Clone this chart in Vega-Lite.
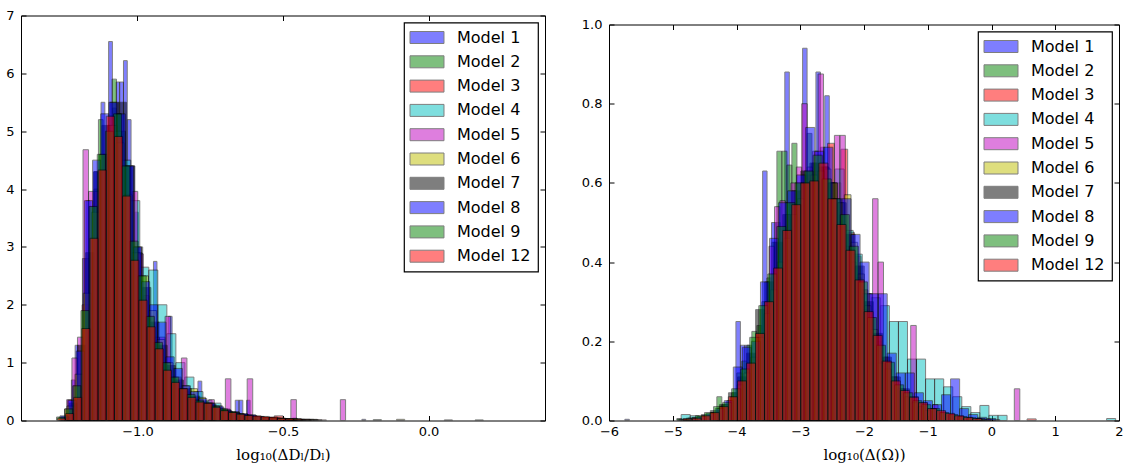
{
"$schema":"https://vega.github.io/schema/vega-lite/v6.json",
"background":"white",
"padding":{"left":5,"top":8.5,"right":0,"bottom":0},
"datasets":{
"L":[
{"m":1,"a":-1.240,"b":-1.227,"h":0.35},{"m":1,"a":-1.227,"b":-1.214,"h":0.7},{"m":1,"a":-1.214,"b":-1.201,"h":1.3},{"m":1,"a":-1.189,"b":-1.176,"h":2.8},{"m":1,"a":-1.176,"b":-1.163,"h":3.8},{"m":1,"a":-1.150,"b":-1.137,"h":4.3},{"m":1,"a":-1.125,"b":-1.112,"h":5.5},{"m":1,"a":-1.099,"b":-1.086,"h":6.55},{"m":1,"a":-1.086,"b":-1.073,"h":5.4},{"m":1,"a":-1.073,"b":-1.061,"h":5.85},{"m":1,"a":-1.061,"b":-1.048,"h":5.85},{"m":1,"a":-1.048,"b":-1.035,"h":6.22},{"m":1,"a":-1.035,"b":-1.022,"h":5.2},{"m":1,"a":-1.022,"b":-1.009,"h":4.4},{"m":1,"a":-1.009,"b":-0.997,"h":3.6},{"m":1,"a":-0.997,"b":-0.984,"h":2.9},{"m":1,"a":-0.945,"b":-0.933,"h":2.75},{"m":1,"a":-0.894,"b":-0.881,"h":1.8},{"m":1,"a":-0.881,"b":-0.869,"h":0.9},{"m":1,"a":-0.792,"b":-0.779,"h":0.68},{"m":1,"a":-0.753,"b":-0.741,"h":0.3},{"m":1,"a":-0.664,"b":-0.651,"h":0.35},{"m":1,"a":-0.651,"b":-0.638,"h":0.35},{"m":1,"a":-0.625,"b":-0.613,"h":0.35},{"m":1,"a":-0.229,"b":-0.216,"h":0.02},
{"m":2,"a":-1.180,"b":-1.165,"h":2.8},{"m":2,"a":-1.165,"b":-1.149,"h":3.7},{"m":2,"a":-1.149,"b":-1.134,"h":4.0},{"m":2,"a":-1.134,"b":-1.118,"h":5.2},{"m":2,"a":-1.118,"b":-1.103,"h":4.6},{"m":2,"a":-1.103,"b":-1.087,"h":5.1},{"m":2,"a":-1.087,"b":-1.072,"h":5.9},{"m":2,"a":-1.072,"b":-1.056,"h":5.3},{"m":2,"a":-1.056,"b":-1.041,"h":5.0},{"m":2,"a":-1.041,"b":-1.025,"h":4.4},{"m":2,"a":-0.839,"b":-0.824,"h":0.5},{"m":2,"a":-0.793,"b":-0.777,"h":0.35},{"m":2,"a":-0.746,"b":-0.731,"h":0.25},{"m":2,"a":-0.700,"b":-0.684,"h":0.15},{"m":2,"a":-0.653,"b":-0.638,"h":0.08},{"m":2,"a":-0.467,"b":-0.452,"h":0.04},
{"m":3,"a":-1.25,"b":-1.22,"h":0.2},{"m":3,"a":-1.22,"b":-1.19,"h":0.6},{"m":3,"a":-1.19,"b":-1.16,"h":2.0},{"m":3,"a":-1.10,"b":-1.07,"h":5.1},{"m":3,"a":-0.71,"b":-0.68,"h":0.18},{"m":3,"a":-0.68,"b":-0.65,"h":0.14},{"m":3,"a":-0.65,"b":-0.62,"h":0.1},{"m":3,"a":-0.56,"b":-0.53,"h":0.05},{"m":3,"a":-0.53,"b":-0.50,"h":0.08},{"m":3,"a":-0.50,"b":-0.47,"h":0.03},
{"m":4,"a":-1.085,"b":-1.054,"h":5.0},{"m":4,"a":-1.054,"b":-1.023,"h":4.5},{"m":4,"a":-1.023,"b":-0.992,"h":3.8},{"m":4,"a":-0.992,"b":-0.961,"h":2.65},{"m":4,"a":-0.961,"b":-0.930,"h":2.6},{"m":4,"a":-0.930,"b":-0.899,"h":2.0},{"m":4,"a":-0.899,"b":-0.868,"h":1.5},{"m":4,"a":-0.868,"b":-0.837,"h":1.0},{"m":4,"a":-0.837,"b":-0.806,"h":0.75},{"m":4,"a":-0.806,"b":-0.775,"h":0.5},{"m":4,"a":-0.775,"b":-0.744,"h":0.35},{"m":4,"a":-0.744,"b":-0.713,"h":0.3},{"m":4,"a":-0.713,"b":-0.682,"h":0.2},{"m":4,"a":-0.682,"b":-0.651,"h":0.15},{"m":4,"a":-0.651,"b":-0.620,"h":0.1},{"m":4,"a":-0.620,"b":-0.589,"h":0.08},{"m":4,"a":-0.589,"b":-0.558,"h":0.05},{"m":4,"a":-0.558,"b":-0.527,"h":0.04},{"m":4,"a":-0.527,"b":-0.496,"h":0.03},{"m":4,"a":-0.496,"b":-0.465,"h":0.02},{"m":4,"a":-0.465,"b":-0.434,"h":0.02},{"m":4,"a":-0.434,"b":-0.403,"h":0.01},
{"m":5,"a":-1.243,"b":-1.225,"h":0.36},{"m":5,"a":-1.225,"b":-1.206,"h":1.08},{"m":5,"a":-1.206,"b":-1.187,"h":1.44},{"m":5,"a":-1.187,"b":-1.168,"h":4.68},{"m":5,"a":-1.168,"b":-1.149,"h":3.96},{"m":5,"a":-1.149,"b":-1.131,"h":3.96},{"m":5,"a":-1.131,"b":-1.112,"h":4.32},{"m":5,"a":-1.018,"b":-0.999,"h":3.96},{"m":5,"a":-0.999,"b":-0.980,"h":2.88},{"m":5,"a":-0.980,"b":-0.961,"h":2.16},{"m":5,"a":-0.961,"b":-0.943,"h":1.8},{"m":5,"a":-0.943,"b":-0.924,"h":1.44},{"m":5,"a":-0.924,"b":-0.905,"h":1.44},{"m":5,"a":-0.905,"b":-0.886,"h":1.8},{"m":5,"a":-0.886,"b":-0.867,"h":0.72},{"m":5,"a":-0.867,"b":-0.849,"h":0.72},{"m":5,"a":-0.849,"b":-0.830,"h":1.08},{"m":5,"a":-0.830,"b":-0.811,"h":0.36},{"m":5,"a":-0.811,"b":-0.792,"h":0.36},{"m":5,"a":-0.792,"b":-0.773,"h":0.36},{"m":5,"a":-0.755,"b":-0.736,"h":0.36},{"m":5,"a":-0.698,"b":-0.679,"h":0.72},{"m":5,"a":-0.623,"b":-0.604,"h":0.72},{"m":5,"a":-0.473,"b":-0.454,"h":0.36},{"m":5,"a":-0.303,"b":-0.285,"h":0.36},
{"m":6,"a":-1.270,"b":-1.242,"h":0.05},{"m":6,"a":-1.242,"b":-1.214,"h":0.25},{"m":6,"a":-1.214,"b":-1.186,"h":0.8},{"m":6,"a":-1.186,"b":-1.158,"h":2.2},{"m":6,"a":-1.158,"b":-1.130,"h":3.6},{"m":6,"a":-1.130,"b":-1.102,"h":4.6},{"m":6,"a":-1.102,"b":-1.074,"h":5.1},{"m":6,"a":-1.074,"b":-1.046,"h":4.8},{"m":6,"a":-1.046,"b":-1.018,"h":3.9},{"m":6,"a":-1.018,"b":-0.990,"h":2.9},{"m":6,"a":-0.990,"b":-0.962,"h":2.5},{"m":6,"a":-0.962,"b":-0.934,"h":1.9},{"m":6,"a":-0.934,"b":-0.906,"h":1.4},{"m":6,"a":-0.906,"b":-0.878,"h":1.0},{"m":6,"a":-0.878,"b":-0.850,"h":0.75},{"m":6,"a":-0.850,"b":-0.822,"h":0.6},{"m":6,"a":-0.822,"b":-0.794,"h":0.55},{"m":6,"a":-0.794,"b":-0.766,"h":0.4},{"m":6,"a":-0.766,"b":-0.738,"h":0.3},{"m":6,"a":-0.738,"b":-0.710,"h":0.25},{"m":6,"a":-0.710,"b":-0.682,"h":0.18},{"m":6,"a":-0.682,"b":-0.654,"h":0.14},{"m":6,"a":-0.654,"b":-0.626,"h":0.1},{"m":6,"a":-0.626,"b":-0.598,"h":0.08},{"m":6,"a":-0.598,"b":-0.570,"h":0.06},{"m":6,"a":-0.570,"b":-0.542,"h":0.05},{"m":6,"a":-0.542,"b":-0.514,"h":0.04},{"m":6,"a":-0.514,"b":-0.486,"h":0.03},{"m":6,"a":-0.486,"b":-0.458,"h":0.02},{"m":6,"a":-0.110,"b":-0.082,"h":0.02},
{"m":7,"a":-1.262,"b":-1.234,"h":0.06},{"m":7,"a":-1.234,"b":-1.206,"h":0.3},{"m":7,"a":-1.206,"b":-1.178,"h":1.3},{"m":7,"a":-1.178,"b":-1.150,"h":2.9},{"m":7,"a":-1.150,"b":-1.122,"h":4.3},{"m":7,"a":-1.122,"b":-1.094,"h":5.1},{"m":7,"a":-1.094,"b":-1.066,"h":5.5},{"m":7,"a":-1.066,"b":-1.038,"h":5.5},{"m":7,"a":-1.038,"b":-1.010,"h":4.4},{"m":7,"a":-1.010,"b":-0.982,"h":3.0},{"m":7,"a":-0.982,"b":-0.954,"h":2.3},{"m":7,"a":-0.954,"b":-0.926,"h":1.7},{"m":7,"a":-0.926,"b":-0.898,"h":1.3},{"m":7,"a":-0.898,"b":-0.870,"h":0.95},{"m":7,"a":-0.870,"b":-0.842,"h":0.7},{"m":7,"a":-0.842,"b":-0.814,"h":0.55},{"m":7,"a":-0.814,"b":-0.786,"h":0.42},{"m":7,"a":-0.786,"b":-0.758,"h":0.33},{"m":7,"a":-0.758,"b":-0.730,"h":0.28},{"m":7,"a":-0.730,"b":-0.702,"h":0.22},{"m":7,"a":-0.702,"b":-0.674,"h":0.16},{"m":7,"a":-0.674,"b":-0.646,"h":0.12},{"m":7,"a":-0.646,"b":-0.618,"h":0.1},{"m":7,"a":-0.618,"b":-0.590,"h":0.08},{"m":7,"a":-0.590,"b":-0.562,"h":0.06},{"m":7,"a":-0.562,"b":-0.534,"h":0.05},{"m":7,"a":-0.534,"b":-0.506,"h":0.04},{"m":7,"a":-0.506,"b":-0.478,"h":0.03},{"m":7,"a":-0.478,"b":-0.450,"h":0.03},{"m":7,"a":-0.450,"b":-0.422,"h":0.02},{"m":7,"a":-0.422,"b":-0.394,"h":0.02},{"m":7,"a":-0.394,"b":-0.366,"h":0.01},{"m":7,"a":0.054,"b":0.082,"h":0.01},
{"m":8,"a":-1.266,"b":-1.238,"h":0.08},{"m":8,"a":-1.238,"b":-1.210,"h":0.35},{"m":8,"a":-1.210,"b":-1.182,"h":1.2},{"m":8,"a":-1.182,"b":-1.154,"h":3.8},{"m":8,"a":-1.154,"b":-1.126,"h":4.5},{"m":8,"a":-1.126,"b":-1.098,"h":5.3},{"m":8,"a":-1.098,"b":-1.070,"h":5.5},{"m":8,"a":-1.070,"b":-1.042,"h":5.3},{"m":8,"a":-1.042,"b":-1.014,"h":4.4},{"m":8,"a":-1.014,"b":-0.986,"h":3.0},{"m":8,"a":-0.986,"b":-0.958,"h":2.4},{"m":8,"a":-0.958,"b":-0.930,"h":2.0},{"m":8,"a":-0.930,"b":-0.902,"h":1.7},{"m":8,"a":-0.902,"b":-0.874,"h":1.1},{"m":8,"a":-0.874,"b":-0.846,"h":0.9},{"m":8,"a":-0.846,"b":-0.818,"h":0.6},{"m":8,"a":-0.818,"b":-0.790,"h":0.5},{"m":8,"a":-0.790,"b":-0.762,"h":0.38},{"m":8,"a":-0.762,"b":-0.734,"h":0.3},{"m":8,"a":-0.734,"b":-0.706,"h":0.25},{"m":8,"a":-0.706,"b":-0.678,"h":0.18},{"m":8,"a":-0.678,"b":-0.650,"h":0.14},{"m":8,"a":-0.650,"b":-0.622,"h":0.12},{"m":8,"a":-0.622,"b":-0.594,"h":0.1},{"m":8,"a":-0.594,"b":-0.566,"h":0.07},{"m":8,"a":-0.566,"b":-0.538,"h":0.05},{"m":8,"a":-0.538,"b":-0.510,"h":0.04},{"m":8,"a":-0.510,"b":-0.482,"h":0.03},{"m":8,"a":-0.482,"b":-0.454,"h":0.02},{"m":8,"a":-0.454,"b":-0.426,"h":0.02},
{"m":9,"a":-1.278,"b":-1.250,"h":0.06},{"m":9,"a":-1.250,"b":-1.222,"h":0.2},{"m":9,"a":-1.222,"b":-1.194,"h":0.6},{"m":9,"a":-1.194,"b":-1.166,"h":1.9},{"m":9,"a":-1.166,"b":-1.138,"h":3.7},{"m":9,"a":-1.138,"b":-1.110,"h":4.6},{"m":9,"a":-1.110,"b":-1.082,"h":5.0},{"m":9,"a":-1.082,"b":-1.054,"h":5.3},{"m":9,"a":-1.054,"b":-1.026,"h":4.4},{"m":9,"a":-1.026,"b":-0.998,"h":3.1},{"m":9,"a":-0.998,"b":-0.970,"h":2.5},{"m":9,"a":-0.970,"b":-0.942,"h":1.8},{"m":9,"a":-0.942,"b":-0.914,"h":1.35},{"m":9,"a":-0.914,"b":-0.886,"h":1.0},{"m":9,"a":-0.886,"b":-0.858,"h":0.75},{"m":9,"a":-0.858,"b":-0.830,"h":0.55},{"m":9,"a":-0.830,"b":-0.802,"h":0.45},{"m":9,"a":-0.802,"b":-0.774,"h":0.35},{"m":9,"a":-0.774,"b":-0.746,"h":0.3},{"m":9,"a":-0.746,"b":-0.718,"h":0.25},{"m":9,"a":-0.718,"b":-0.690,"h":0.2},{"m":9,"a":-0.690,"b":-0.662,"h":0.15},{"m":9,"a":-0.662,"b":-0.634,"h":0.12},{"m":9,"a":-0.634,"b":-0.606,"h":0.09},{"m":9,"a":-0.606,"b":-0.578,"h":0.07},{"m":9,"a":-0.578,"b":-0.550,"h":0.06},{"m":9,"a":-0.550,"b":-0.522,"h":0.05},{"m":9,"a":-0.522,"b":-0.494,"h":0.04},{"m":9,"a":-0.494,"b":-0.466,"h":0.03},{"m":9,"a":-0.466,"b":-0.438,"h":0.03},{"m":9,"a":-0.438,"b":-0.410,"h":0.02},{"m":9,"a":-0.410,"b":-0.382,"h":0.02},{"m":9,"a":-0.190,"b":-0.162,"h":0.015},{"m":9,"a":0.160,"b":0.188,"h":0.01},
{"m":12,"a":-1.275,"b":-1.247,"h":0.04},{"m":12,"a":-1.247,"b":-1.219,"h":0.12},{"m":12,"a":-1.219,"b":-1.191,"h":0.4},{"m":12,"a":-1.191,"b":-1.163,"h":1.59},{"m":12,"a":-1.163,"b":-1.135,"h":3.15},{"m":12,"a":-1.135,"b":-1.107,"h":4.33},{"m":12,"a":-1.107,"b":-1.079,"h":5.26},{"m":12,"a":-1.079,"b":-1.051,"h":4.91},{"m":12,"a":-1.051,"b":-1.023,"h":3.88},{"m":12,"a":-1.023,"b":-0.995,"h":2.77},{"m":12,"a":-0.995,"b":-0.967,"h":2.08},{"m":12,"a":-0.967,"b":-0.939,"h":1.62},{"m":12,"a":-0.939,"b":-0.911,"h":1.24},{"m":12,"a":-0.911,"b":-0.883,"h":0.87},{"m":12,"a":-0.883,"b":-0.855,"h":0.66},{"m":12,"a":-0.855,"b":-0.827,"h":0.55},{"m":12,"a":-0.827,"b":-0.799,"h":0.4},{"m":12,"a":-0.799,"b":-0.771,"h":0.32},{"m":12,"a":-0.771,"b":-0.743,"h":0.3},{"m":12,"a":-0.743,"b":-0.715,"h":0.23},{"m":12,"a":-0.715,"b":-0.687,"h":0.17},{"m":12,"a":-0.687,"b":-0.659,"h":0.14},{"m":12,"a":-0.659,"b":-0.631,"h":0.11},{"m":12,"a":-0.631,"b":-0.603,"h":0.09},{"m":12,"a":-0.603,"b":-0.575,"h":0.08},{"m":12,"a":-0.575,"b":-0.547,"h":0.07},{"m":12,"a":-0.547,"b":-0.519,"h":0.06},{"m":12,"a":-0.519,"b":-0.491,"h":0.04},{"m":12,"a":-0.491,"b":-0.463,"h":0.03},{"m":12,"a":-0.463,"b":-0.435,"h":0.025},{"m":12,"a":-0.435,"b":-0.407,"h":0.02},{"m":12,"a":-0.407,"b":-0.379,"h":0.015},{"m":12,"a":-0.379,"b":-0.351,"h":0.01}
],
"R":[
{"m":1,"a":-5.751,"b":-5.681,"h":0.003},{"m":1,"a":-4.009,"b":-3.939,"h":0.25},{"m":1,"a":-3.939,"b":-3.869,"h":0.19},{"m":1,"a":-3.869,"b":-3.799,"h":0.19},{"m":1,"a":-3.590,"b":-3.521,"h":0.63},{"m":1,"a":-3.521,"b":-3.451,"h":0.35},{"m":1,"a":-3.451,"b":-3.381,"h":0.5},{"m":1,"a":-3.381,"b":-3.312,"h":0.5},{"m":1,"a":-3.242,"b":-3.172,"h":0.88},{"m":1,"a":-3.172,"b":-3.102,"h":0.55},{"m":1,"a":-2.963,"b":-2.893,"h":0.94},{"m":1,"a":-2.893,"b":-2.824,"h":0.6},{"m":1,"a":-2.754,"b":-2.684,"h":0.88},{"m":1,"a":-2.684,"b":-2.615,"h":0.69},{"m":1,"a":-2.615,"b":-2.545,"h":0.82},{"m":1,"a":-2.545,"b":-2.475,"h":0.6},
{"m":2,"a":-4.936,"b":-4.858,"h":0.005},{"m":2,"a":-4.308,"b":-4.230,"h":0.06},{"m":2,"a":-4.230,"b":-4.151,"h":0.04},{"m":2,"a":-4.151,"b":-4.073,"h":0.05},{"m":2,"a":-4.073,"b":-3.994,"h":0.07},{"m":2,"a":-3.994,"b":-3.916,"h":0.12},{"m":2,"a":-3.916,"b":-3.837,"h":0.15},{"m":2,"a":-3.837,"b":-3.759,"h":0.19},{"m":2,"a":-3.759,"b":-3.680,"h":0.225},{"m":2,"a":-3.680,"b":-3.602,"h":0.24},{"m":2,"a":-3.602,"b":-3.523,"h":0.3},{"m":2,"a":-3.523,"b":-3.445,"h":0.36},{"m":2,"a":-3.445,"b":-3.366,"h":0.45},{"m":2,"a":-3.366,"b":-3.288,"h":0.68},{"m":2,"a":-3.288,"b":-3.209,"h":0.68},{"m":2,"a":-3.209,"b":-3.131,"h":0.645},{"m":2,"a":-3.131,"b":-3.052,"h":0.7},{"m":2,"a":-3.052,"b":-2.974,"h":0.6},{"m":2,"a":-2.974,"b":-2.895,"h":0.62},{"m":2,"a":-2.895,"b":-2.817,"h":0.725},{"m":2,"a":-2.817,"b":-2.738,"h":0.65},{"m":2,"a":-2.738,"b":-2.660,"h":0.62},
{"m":3,"a":-2.886,"b":-2.781,"h":0.62},{"m":3,"a":-2.781,"b":-2.676,"h":0.63},{"m":3,"a":-2.676,"b":-2.571,"h":0.64},{"m":3,"a":-2.571,"b":-2.466,"h":0.7},{"m":3,"a":-2.466,"b":-2.361,"h":0.6},{"m":3,"a":-2.361,"b":-2.256,"h":0.685},{"m":3,"a":-2.256,"b":-2.151,"h":0.475},{"m":3,"a":-2.151,"b":-2.046,"h":0.415},{"m":3,"a":-2.046,"b":-1.941,"h":0.33},{"m":3,"a":-1.941,"b":-1.836,"h":0.26},{"m":3,"a":-1.836,"b":-1.731,"h":0.2},{"m":3,"a":-1.731,"b":-1.626,"h":0.143},
{"m":4,"a":-4.868,"b":-4.726,"h":0.015},{"m":4,"a":-4.726,"b":-4.584,"h":0.012},{"m":4,"a":-2.596,"b":-2.454,"h":0.6},{"m":4,"a":-2.454,"b":-2.312,"h":0.635},{"m":4,"a":-2.312,"b":-2.170,"h":0.48},{"m":4,"a":-2.170,"b":-2.028,"h":0.42},{"m":4,"a":-2.028,"b":-1.886,"h":0.32},{"m":4,"a":-1.886,"b":-1.744,"h":0.31},{"m":4,"a":-1.744,"b":-1.602,"h":0.29},{"m":4,"a":-1.602,"b":-1.460,"h":0.25},{"m":4,"a":-1.460,"b":-1.318,"h":0.25},{"m":4,"a":-1.318,"b":-1.176,"h":0.155},{"m":4,"a":-1.176,"b":-1.034,"h":0.155},{"m":4,"a":-1.034,"b":-0.892,"h":0.105},{"m":4,"a":-0.892,"b":-0.750,"h":0.105},{"m":4,"a":-0.750,"b":-0.608,"h":0.085},{"m":4,"a":-0.608,"b":-0.466,"h":0.06},{"m":4,"a":-0.466,"b":-0.324,"h":0.035},{"m":4,"a":-0.324,"b":-0.182,"h":0.02},{"m":4,"a":-0.182,"b":-0.040,"h":0.038},{"m":4,"a":-0.040,"b":0.102,"h":0.013},{"m":4,"a":0.102,"b":0.244,"h":0.013},{"m":4,"a":1.806,"b":1.948,"h":0.005},
{"m":5,"a":-3.490,"b":-3.404,"h":0.44},{"m":5,"a":-3.404,"b":-3.319,"h":0.54},{"m":5,"a":-3.319,"b":-3.233,"h":0.555},{"m":5,"a":-3.233,"b":-3.148,"h":0.52},{"m":5,"a":-3.148,"b":-3.062,"h":0.6},{"m":5,"a":-3.062,"b":-2.977,"h":0.64},{"m":5,"a":-2.977,"b":-2.891,"h":0.8},{"m":5,"a":-2.891,"b":-2.806,"h":0.64},{"m":5,"a":-2.806,"b":-2.720,"h":0.68},{"m":5,"a":-2.720,"b":-2.635,"h":0.875},{"m":5,"a":-2.635,"b":-2.549,"h":0.64},{"m":5,"a":-2.549,"b":-2.464,"h":0.6},{"m":5,"a":-2.464,"b":-2.378,"h":0.72},{"m":5,"a":-2.378,"b":-2.293,"h":0.72},{"m":5,"a":-2.293,"b":-2.207,"h":0.44},{"m":5,"a":-2.207,"b":-2.122,"h":0.4},{"m":5,"a":-2.122,"b":-2.036,"h":0.36},{"m":5,"a":-2.036,"b":-1.951,"h":0.28},{"m":5,"a":-1.951,"b":-1.865,"h":0.32},{"m":5,"a":-1.865,"b":-1.780,"h":0.56},{"m":5,"a":-1.780,"b":-1.694,"h":0.4},{"m":5,"a":-1.694,"b":-1.609,"h":0.16},{"m":5,"a":-1.267,"b":-1.181,"h":0.24},{"m":5,"a":-0.925,"b":-0.839,"h":0.04},{"m":5,"a":0.358,"b":0.444,"h":0.08},
{"m":6,"a":-4.409,"b":-4.304,"h":0.02},{"m":6,"a":-4.304,"b":-4.199,"h":0.03},{"m":6,"a":-4.199,"b":-4.094,"h":0.04},{"m":6,"a":-4.094,"b":-3.989,"h":0.06},{"m":6,"a":-3.989,"b":-3.884,"h":0.09},{"m":6,"a":-3.884,"b":-3.779,"h":0.12},{"m":6,"a":-3.779,"b":-3.674,"h":0.16},{"m":6,"a":-3.674,"b":-3.569,"h":0.21},{"m":6,"a":-3.569,"b":-3.464,"h":0.27},{"m":6,"a":-3.464,"b":-3.359,"h":0.33},{"m":6,"a":-3.359,"b":-3.254,"h":0.4},{"m":6,"a":-3.254,"b":-3.149,"h":0.46},{"m":6,"a":-3.149,"b":-3.044,"h":0.52},{"m":6,"a":-3.044,"b":-2.939,"h":0.56},{"m":6,"a":-2.939,"b":-2.834,"h":0.6},{"m":6,"a":-2.834,"b":-2.729,"h":0.62},{"m":6,"a":-2.729,"b":-2.624,"h":0.63},{"m":6,"a":-2.624,"b":-2.519,"h":0.635},{"m":6,"a":-2.519,"b":-2.414,"h":0.6},{"m":6,"a":-2.414,"b":-2.309,"h":0.55},{"m":6,"a":-2.309,"b":-2.204,"h":0.57},{"m":6,"a":-2.204,"b":-2.099,"h":0.45},{"m":6,"a":-2.099,"b":-1.994,"h":0.37},{"m":6,"a":-1.994,"b":-1.889,"h":0.29},{"m":6,"a":-1.889,"b":-1.784,"h":0.23},{"m":6,"a":-1.784,"b":-1.679,"h":0.145},{"m":6,"a":-1.679,"b":-1.574,"h":0.13},{"m":6,"a":-1.574,"b":-1.469,"h":0.11},{"m":6,"a":-1.469,"b":-1.364,"h":0.08},{"m":6,"a":-1.364,"b":-1.259,"h":0.06},{"m":6,"a":-1.259,"b":-1.154,"h":0.045},{"m":6,"a":-1.154,"b":-1.049,"h":0.035},{"m":6,"a":-1.049,"b":-0.944,"h":0.025},
{"m":7,"a":-4.836,"b":-4.694,"h":0.004},{"m":7,"a":-4.694,"b":-4.552,"h":0.008},{"m":7,"a":-4.552,"b":-4.410,"h":0.015},{"m":7,"a":-4.410,"b":-4.268,"h":0.025},{"m":7,"a":-4.268,"b":-4.126,"h":0.04},{"m":7,"a":-4.126,"b":-3.984,"h":0.07},{"m":7,"a":-3.984,"b":-3.842,"h":0.11},{"m":7,"a":-3.842,"b":-3.700,"h":0.17},{"m":7,"a":-3.700,"b":-3.558,"h":0.28},{"m":7,"a":-3.558,"b":-3.416,"h":0.35},{"m":7,"a":-3.416,"b":-3.274,"h":0.45},{"m":7,"a":-3.274,"b":-3.132,"h":0.52},{"m":7,"a":-3.132,"b":-2.990,"h":0.58},{"m":7,"a":-2.990,"b":-2.848,"h":0.63},{"m":7,"a":-2.848,"b":-2.706,"h":0.65},{"m":7,"a":-2.706,"b":-2.564,"h":0.64},{"m":7,"a":-2.564,"b":-2.422,"h":0.6},{"m":7,"a":-2.422,"b":-2.280,"h":0.55},{"m":7,"a":-2.280,"b":-2.138,"h":0.47},{"m":7,"a":-2.138,"b":-1.996,"h":0.39},{"m":7,"a":-1.996,"b":-1.854,"h":0.3},{"m":7,"a":-1.854,"b":-1.712,"h":0.22},{"m":7,"a":-1.712,"b":-1.570,"h":0.16},{"m":7,"a":-1.570,"b":-1.428,"h":0.11},{"m":7,"a":-1.428,"b":-1.286,"h":0.08},{"m":7,"a":-1.286,"b":-1.144,"h":0.06},{"m":7,"a":-1.144,"b":-1.002,"h":0.045},{"m":7,"a":-1.002,"b":-0.860,"h":0.03},{"m":7,"a":-0.860,"b":-0.718,"h":0.022},{"m":7,"a":-0.718,"b":-0.576,"h":0.016},{"m":7,"a":-0.576,"b":-0.434,"h":0.011},{"m":7,"a":-0.434,"b":-0.292,"h":0.007},{"m":7,"a":-0.292,"b":-0.150,"h":0.005},{"m":7,"a":-0.150,"b":-0.008,"h":0.003},
{"m":8,"a":-4.902,"b":-4.760,"h":0.003},{"m":8,"a":-4.760,"b":-4.618,"h":0.006},{"m":8,"a":-4.618,"b":-4.476,"h":0.01},{"m":8,"a":-4.476,"b":-4.334,"h":0.018},{"m":8,"a":-4.334,"b":-4.192,"h":0.03},{"m":8,"a":-4.192,"b":-4.050,"h":0.05},{"m":8,"a":-4.050,"b":-3.908,"h":0.135},{"m":8,"a":-3.908,"b":-3.766,"h":0.185},{"m":8,"a":-3.766,"b":-3.624,"h":0.2},{"m":8,"a":-3.624,"b":-3.482,"h":0.35},{"m":8,"a":-3.482,"b":-3.340,"h":0.46},{"m":8,"a":-3.340,"b":-3.198,"h":0.55},{"m":8,"a":-3.198,"b":-3.056,"h":0.58},{"m":8,"a":-3.056,"b":-2.914,"h":0.62},{"m":8,"a":-2.914,"b":-2.772,"h":0.74},{"m":8,"a":-2.772,"b":-2.630,"h":0.68},{"m":8,"a":-2.630,"b":-2.488,"h":0.69},{"m":8,"a":-2.488,"b":-2.346,"h":0.56},{"m":8,"a":-2.346,"b":-2.204,"h":0.56},{"m":8,"a":-2.204,"b":-2.062,"h":0.47},{"m":8,"a":-2.062,"b":-1.920,"h":0.4},{"m":8,"a":-1.920,"b":-1.778,"h":0.32},{"m":8,"a":-1.778,"b":-1.636,"h":0.32},{"m":8,"a":-1.636,"b":-1.494,"h":0.17},{"m":8,"a":-1.494,"b":-1.352,"h":0.12},{"m":8,"a":-1.352,"b":-1.210,"h":0.12},{"m":8,"a":-1.210,"b":-1.068,"h":0.07},{"m":8,"a":-1.068,"b":-0.926,"h":0.05},{"m":8,"a":-0.926,"b":-0.784,"h":0.04},{"m":8,"a":-0.784,"b":-0.642,"h":0.065},{"m":8,"a":-0.642,"b":-0.500,"h":0.105},{"m":8,"a":-0.500,"b":-0.358,"h":0.03},{"m":8,"a":-0.358,"b":-0.216,"h":0.015},{"m":8,"a":-0.216,"b":-0.074,"h":0.008},{"m":8,"a":-0.074,"b":0.068,"h":0.005},
{"m":9,"a":-4.928,"b":-4.786,"h":0.003},{"m":9,"a":-4.786,"b":-4.644,"h":0.006},{"m":9,"a":-4.644,"b":-4.502,"h":0.012},{"m":9,"a":-4.502,"b":-4.360,"h":0.02},{"m":9,"a":-4.360,"b":-4.218,"h":0.035},{"m":9,"a":-4.218,"b":-4.076,"h":0.045},{"m":9,"a":-4.076,"b":-3.934,"h":0.08},{"m":9,"a":-3.934,"b":-3.792,"h":0.13},{"m":9,"a":-3.792,"b":-3.650,"h":0.21},{"m":9,"a":-3.650,"b":-3.508,"h":0.29},{"m":9,"a":-3.508,"b":-3.366,"h":0.37},{"m":9,"a":-3.366,"b":-3.224,"h":0.49},{"m":9,"a":-3.224,"b":-3.082,"h":0.55},{"m":9,"a":-3.082,"b":-2.940,"h":0.6},{"m":9,"a":-2.940,"b":-2.798,"h":0.63},{"m":9,"a":-2.798,"b":-2.656,"h":0.67},{"m":9,"a":-2.656,"b":-2.514,"h":0.61},{"m":9,"a":-2.514,"b":-2.372,"h":0.56},{"m":9,"a":-2.372,"b":-2.230,"h":0.52},{"m":9,"a":-2.230,"b":-2.088,"h":0.44},{"m":9,"a":-2.088,"b":-1.946,"h":0.35},{"m":9,"a":-1.946,"b":-1.804,"h":0.26},{"m":9,"a":-1.804,"b":-1.662,"h":0.19},{"m":9,"a":-1.662,"b":-1.520,"h":0.147},{"m":9,"a":-1.520,"b":-1.378,"h":0.09},{"m":9,"a":-1.378,"b":-1.236,"h":0.07},{"m":9,"a":-1.236,"b":-1.094,"h":0.05},{"m":9,"a":-1.094,"b":-0.952,"h":0.04},{"m":9,"a":-0.952,"b":-0.810,"h":0.03},{"m":9,"a":-0.810,"b":-0.668,"h":0.02},{"m":9,"a":-0.668,"b":-0.526,"h":0.015},{"m":9,"a":-0.526,"b":-0.384,"h":0.01},{"m":9,"a":-0.384,"b":-0.242,"h":0.007},{"m":9,"a":-0.242,"b":-0.100,"h":0.005},
{"m":12,"a":-4.838,"b":-4.696,"h":0.004},{"m":12,"a":-4.696,"b":-4.554,"h":0.006},{"m":12,"a":-4.554,"b":-4.412,"h":0.012},{"m":12,"a":-4.412,"b":-4.270,"h":0.02},{"m":12,"a":-4.270,"b":-4.128,"h":0.035},{"m":12,"a":-4.128,"b":-3.986,"h":0.06},{"m":12,"a":-3.986,"b":-3.844,"h":0.1},{"m":12,"a":-3.844,"b":-3.702,"h":0.145},{"m":12,"a":-3.702,"b":-3.560,"h":0.22},{"m":12,"a":-3.560,"b":-3.418,"h":0.3},{"m":12,"a":-3.418,"b":-3.276,"h":0.385},{"m":12,"a":-3.276,"b":-3.134,"h":0.48},{"m":12,"a":-3.134,"b":-2.992,"h":0.545},{"m":12,"a":-2.992,"b":-2.850,"h":0.6},{"m":12,"a":-2.850,"b":-2.708,"h":0.605},{"m":12,"a":-2.708,"b":-2.566,"h":0.65},{"m":12,"a":-2.566,"b":-2.424,"h":0.56},{"m":12,"a":-2.424,"b":-2.282,"h":0.495},{"m":12,"a":-2.282,"b":-2.140,"h":0.43},{"m":12,"a":-2.140,"b":-1.998,"h":0.355},{"m":12,"a":-1.998,"b":-1.856,"h":0.275},{"m":12,"a":-1.856,"b":-1.714,"h":0.215},{"m":12,"a":-1.714,"b":-1.572,"h":0.15},{"m":12,"a":-1.572,"b":-1.430,"h":0.1},{"m":12,"a":-1.430,"b":-1.288,"h":0.076},{"m":12,"a":-1.288,"b":-1.146,"h":0.059},{"m":12,"a":-1.146,"b":-1.004,"h":0.045},{"m":12,"a":-1.004,"b":-0.862,"h":0.03},{"m":12,"a":-0.862,"b":-0.720,"h":0.025},{"m":12,"a":-0.720,"b":-0.578,"h":0.018},{"m":12,"a":-0.578,"b":-0.436,"h":0.012},{"m":12,"a":-0.436,"b":-0.294,"h":0.008},{"m":12,"a":-0.294,"b":-0.152,"h":0.005},{"m":12,"a":-0.152,"b":-0.010,"h":0.003},{"m":12,"a":-0.010,"b":0.132,"h":0.002},{"m":12,"a":0.558,"b":0.700,"h":0.004}
]
},
"config":{
"view":{"stroke":"black","strokeWidth":1},
"axis":{"grid":false,"domain":false,"tickColor":"black","tickSize":-5,"tickWidth":1,"labelFont":"DejaVu Sans","labelFontSize":13,"labelColor":"black","labelFlush":false,"labelOverlap":false,"titleFont":"DejaVu Serif","titleFontSize":15,"titleFontWeight":"normal","titleColor":"black","titlePadding":8.5},
"axisX":{"labelPadding":10},
"axisY":{"labelPadding":12},
"legend":{"orient":"top-right","offset":7,"padding":7,"rowPadding":8.3,"labelFont":"DejaVu Sans","labelFontSize":16,"labelColor":"black","labelLimit":200,"symbolType":"M-2.833,-1H2.833V1H-2.833Z","symbolSize":144,"symbolStrokeColor":"black","symbolStrokeWidth":1,"symbolOffset":8,"labelOffset":22,"strokeColor":"black","strokeWidth":1.2,"fillColor":"white"},
"concat":{"spacing":34}
},
"resolve":{"legend":{"color":"independent"},"scale":{"color":"independent"}},
"hconcat":[
{"width":524,"height":405,"data":{"name":"L"},
"layer":[
{"mark":{"type":"bar","opacity":0.5,"stroke":"black","strokeWidth":1,"clip":true},
"encoding":{
"x":{"field":"a","type":"quantitative","scale":{"domain":[-1.4,0.4],"nice":false,"zero":false},"axis":{"values":[-1,-0.5,0],"format":".1f","title":"log₁₀(ΔDₗ/Dₗ)"}},
"x2":{"field":"b"},
"y":{"field":"h","type":"quantitative","stack":null,"scale":{"domain":[0,7],"nice":false},"axis":{"values":[0,1,2,3,4,5,6,7],"format":"d","title":null}},
"y2":{"datum":0},
"color":{"field":"m","type":"nominal","scale":{"domain":[1,2,3,4,5,6,7,8,9,12],"range":["#0000ff","#008000","#ff0000","#00bfbf","#bf00bf","#bfbf00","#000000","#0000ff","#008000","#ff0000"]},"legend":{"title":null,"labelExpr":"'Model ' + datum.label"}}
}},
{"mark":{"type":"point","opacity":0},
"encoding":{
"x":{"field":"a","type":"quantitative","scale":{"domain":[-1.4,0.4],"nice":false,"zero":false},"axis":{"orient":"top","values":[-1,-0.5,0],"labels":false,"title":null}},
"y":{"field":"h","type":"quantitative","scale":{"domain":[0,7],"nice":false},"axis":{"orient":"right","values":[0,1,2,3,4,5,6,7],"labels":false,"title":null}}
}}
],
"resolve":{"axis":{"x":"independent","y":"independent"}}
},
{"vconcat":[
{"width":510,"height":1,"data":{"values":[{"s":0}]},"mark":{"type":"point","opacity":0},"encoding":{},"view":{"stroke":"transparent"}},
{"width":510,"height":396,"data":{"name":"R"},
"layer":[
{"mark":{"type":"bar","opacity":0.5,"stroke":"black","strokeWidth":1,"clip":true},
"encoding":{
"x":{"field":"a","type":"quantitative","scale":{"domain":[-6,2],"nice":false,"zero":false},"axis":{"values":[-6,-5,-4,-3,-2,-1,0,1,2],"format":"d","title":"log₁₀(Δ(Ω))"}},
"x2":{"field":"b"},
"y":{"field":"h","type":"quantitative","stack":null,"scale":{"domain":[0,1],"nice":false},"axis":{"values":[0,0.2,0.4,0.6,0.8,1.0],"format":".1f","title":null}},
"y2":{"datum":0},
"color":{"field":"m","type":"nominal","scale":{"domain":[1,2,3,4,5,6,7,8,9,12],"range":["#0000ff","#008000","#ff0000","#00bfbf","#bf00bf","#bfbf00","#000000","#0000ff","#008000","#ff0000"]},"legend":{"title":null,"labelExpr":"'Model ' + datum.label"}}
}},
{"mark":{"type":"point","opacity":0},
"encoding":{
"x":{"field":"a","type":"quantitative","scale":{"domain":[-6,2],"nice":false,"zero":false},"axis":{"orient":"top","values":[-6,-5,-4,-3,-2,-1,0,1,2],"labels":false,"title":null}},
"y":{"field":"h","type":"quantitative","scale":{"domain":[0,1],"nice":false},"axis":{"orient":"right","values":[0,0.2,0.4,0.6,0.8,1.0],"labels":false,"title":null}}
}}
],
"resolve":{"axis":{"x":"independent","y":"independent"}}
}
],"spacing":-2,"resolve":{"legend":{"color":"independent"}}}
]
}
